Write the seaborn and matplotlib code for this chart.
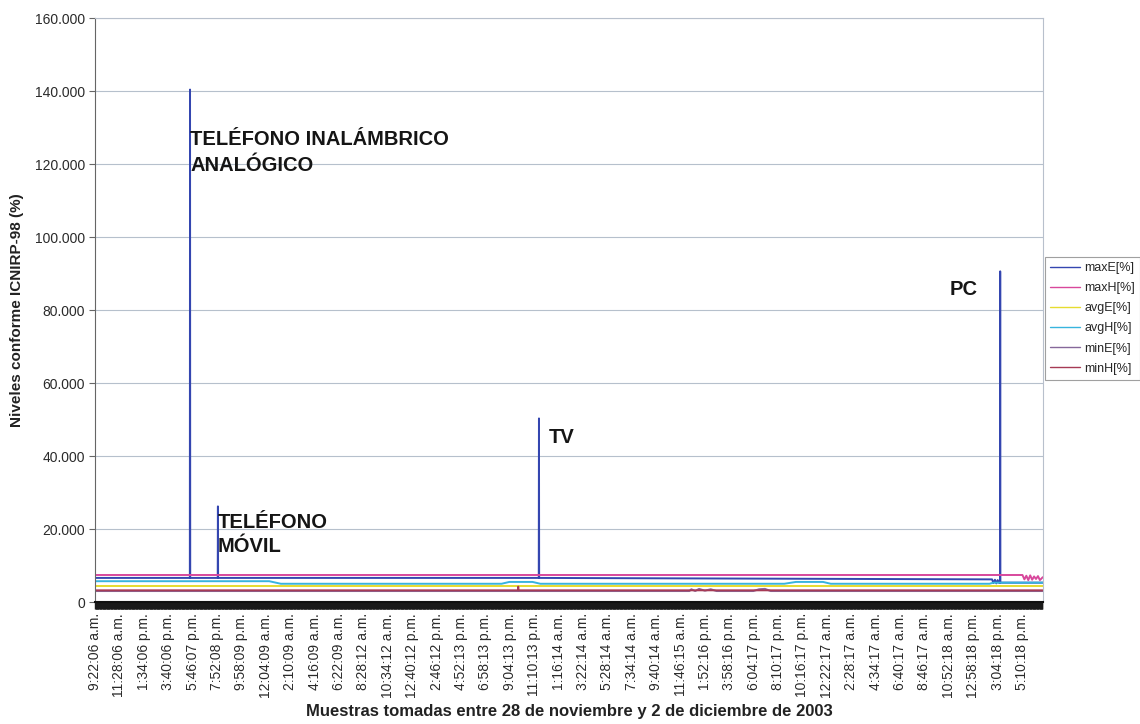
import matplotlib
matplotlib.use("Agg")
import matplotlib.pyplot as plt
from matplotlib.ticker import FixedLocator, FuncFormatter
import seaborn as sns
import pandas as pd

# sample index (one sample per minute, label every 126 samples)
tick_labels = ['9:22:06 a.m.', '11:28:06 a.m.', '1:34:06 p.m.', '3:40:06 p.m.', '5:46:07 p.m.',
               '7:52:08 p.m.', '9:58:09 p.m.', '12:04:09 a.m.', '2:10:09 a.m.', '4:16:09 a.m.',
               '6:22:09 a.m.', '8:28:12 a.m.', '10:34:12 a.m.', '12:40:12 p.m.', '2:46:12 p.m.',
               '4:52:13 p.m.', '6:58:13 p.m.', '9:04:13 p.m.', '11:10:13 p.m.', '1:16:14 a.m.',
               '3:22:14 a.m.', '5:28:14 a.m.', '7:34:14 a.m.', '9:40:14 a.m.', '11:46:15 a.m.',
               '1:52:16 p.m.', '3:58:16 p.m.', '6:04:17 p.m.', '8:10:17 p.m.', '10:16:17 p.m.',
               '12:22:17 a.m.', '2:28:17 a.m.', '4:34:17 a.m.', '6:40:17 a.m.', '8:46:17 a.m.',
               '10:52:18 a.m.', '12:58:18 p.m.', '3:04:18 p.m.', '5:10:18 p.m.']
label_step = 126
n_samples = 4896

maxE_x = [0, 490, 491, 492, 634, 635, 636, 2292, 2293, 2294, 4633, 4640, 4648, 4655, 4662, 4670, 4674, 4675, 4676, 4895]
maxE_y = [6600, 6600, 140400, 6600, 6600, 26200, 6600, 6600, 50300, 6600, 6200, 5200, 6100, 5100, 6000, 5200, 5200, 90600, 5300, 5300]

maxH_x = [0, 4790, 4800, 4810, 4820, 4830, 4840, 4850, 4860, 4870, 4880, 4895]
maxH_y = [7400, 7400, 6200, 7200, 6000, 7300, 6100, 7000, 6300, 7100, 6000, 6800]

avgE_x = [0, 4895]
avgE_y = [4500, 4500]

avgH_x = [0, 900, 960, 2100, 2140, 2260, 2300, 3560, 3620, 3760, 3800, 4620, 4640, 4895]
avgH_y = [5700, 5700, 5000, 5000, 5500, 5500, 5000, 5000, 5500, 5500, 5000, 5000, 5300, 5300]

minE_x = [0, 3070, 3080, 3100, 3120, 3150, 3180, 3210, 3260, 3400, 3430, 3460, 3490, 4895]
minE_y = [3000, 3000, 3500, 3000, 3600, 3100, 3500, 3000, 3000, 3000, 3500, 3600, 3000, 3000]

minH_x = [0, 2185, 2186, 2187, 4895]
minH_y = [3200, 3200, 4200, 3200, 3200]

series = [('maxE[%]', maxE_x, maxE_y, '#3446b0'),
          ('maxH[%]', maxH_x, maxH_y, '#d8489c'),
          ('avgE[%]', avgE_x, avgE_y, '#e6dc30'),
          ('avgH[%]', avgH_x, avgH_y, '#38b4de'),
          ('minE[%]', minE_x, minE_y, '#86689a'),
          ('minH[%]', minH_x, minH_y, '#a63a55')]

notes = [(['TELÉFONO INALÁMBRICO', 'ANALÓGICO'], 491, [126600, 119700]),
         (['TELÉFONO', 'MÓVIL'], 635, [21900, 15300]),
         (['TV'], 2345, [45200]),
         (['PC'], 4416, [85500])]

sns.set_theme(style="white")
plt.rcParams['font.family'] = ['Liberation Sans', 'DejaVu Sans']

fig = plt.figure(figsize=(11.4, 7.24), dpi=100)
ax = fig.add_axes([0.0833, 0.1685, 0.8316, 0.8066])

for name, xs, ys, col in series:
    df = pd.DataFrame({'x': xs, 'y': ys})
    sns.lineplot(data=df, x='x', y='y', ax=ax, color=col, lw=1.4, label=name,
                 estimator=None, sort=False)

for lines, xpos, ypos in notes:
    for txt, yy in zip(lines, ypos):
        ax.text(xpos, yy, txt, fontsize=14.5, fontweight='bold', color='#151515',
                ha='left', va='center')

ax.set_xlim(0, n_samples)
ax.set_ylim(0, 160000)
ax.yaxis.set_major_locator(FixedLocator(list(range(0, 160001, 20000))))
ax.yaxis.set_major_formatter(FuncFormatter(lambda v, p: f"{v:,.0f}".replace(',', '.')))
ax.grid(axis='y', color='#b6c0cc', lw=0.8)
ax.set_axisbelow(True)

ax.set_xticks([i * label_step for i in range(len(tick_labels))])
ax.set_xticklabels(tick_labels, rotation=90, fontsize=10, color='#2a2a2a')
ax.xaxis.set_minor_locator(FixedLocator(list(range(0, n_samples, 3))))
ax.tick_params(axis='x', which='both', direction='out', length=5, width=1.0,
               color='#1a1a1a', bottom=True, pad=3)
ax.tick_params(axis='y', which='major', direction='out', length=4, width=0.8,
               color='#666666', left=True, labelsize=10, labelcolor='#2a2a2a', pad=3)

for side in ['top', 'right']:
    ax.spines[side].set_color('#b8c0cc')
    ax.spines[side].set_linewidth(0.8)
ax.spines['left'].set_color('#666666')
ax.spines['left'].set_linewidth(0.8)
ax.spines['bottom'].set_color('#111111')
ax.spines['bottom'].set_linewidth(1.5)

ax.set_xlabel('Muestras tomadas entre 28 de noviembre y 2 de diciembre de 2003',
              fontsize=12, fontweight='bold', color='#222222', labelpad=4)
ax.set_ylabel('Niveles conforme ICNIRP-98 (%)', fontsize=11, fontweight='bold',
              color='#222222', labelpad=8)

handles, labels = ax.get_legend_handles_labels()
ax.get_legend().remove()
leg = fig.legend(handles, labels, loc='upper left', bbox_to_anchor=(0.917, 0.645),
                 fontsize=9, frameon=True, fancybox=False, edgecolor='#888888',
                 handlelength=2.4, labelspacing=0.65, borderpad=0.4, handletextpad=0.3,
                 borderaxespad=0.0)
leg.get_frame().set_linewidth(0.8)
for line in leg.get_lines():
    line.set_linewidth(1.0)

fig.savefig('out.png', dpi=100)
